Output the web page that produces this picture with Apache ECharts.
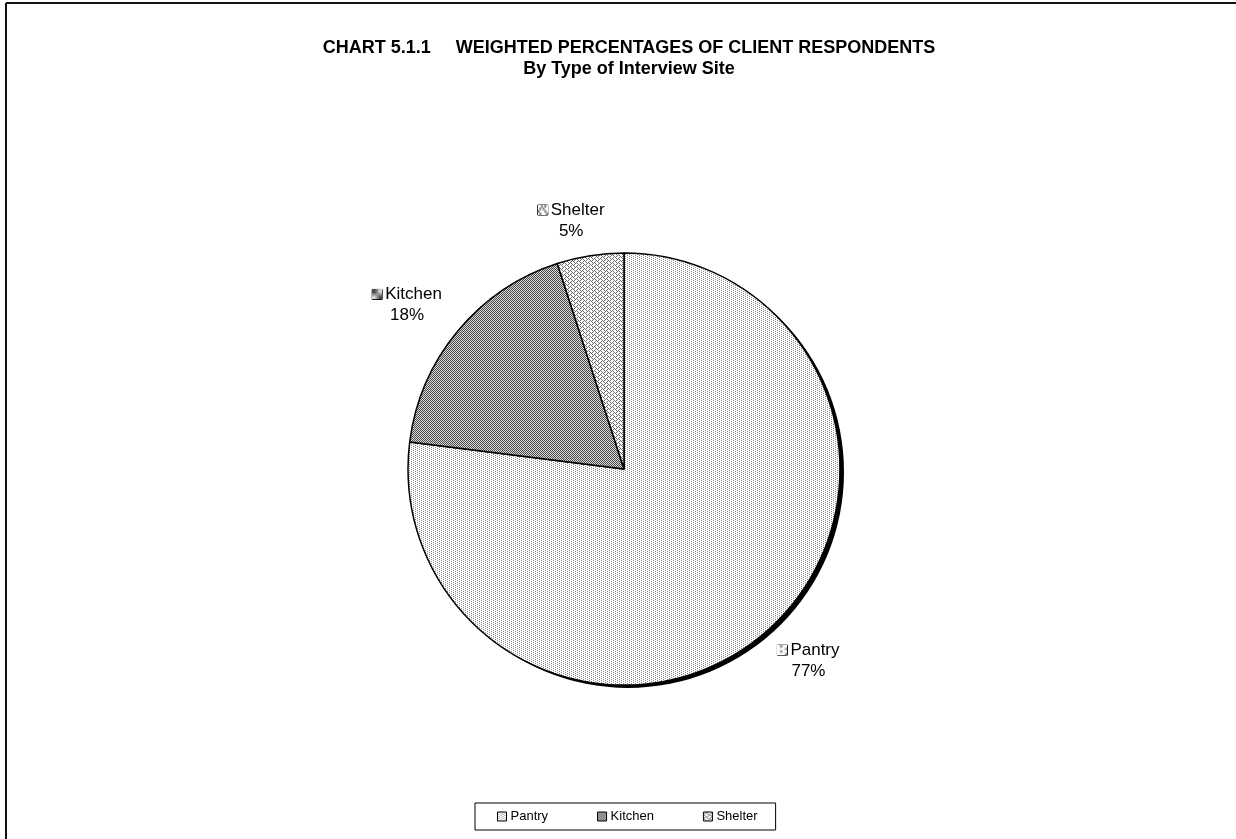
<!DOCTYPE html>
<html>
<head>
<meta charset="utf-8">
<script src="https://cdn.jsdelivr.net/npm/echarts@6/dist/echarts.min.js"></script>
<style>
html,body{margin:0;padding:0;background:#fff;}
#chart{width:1236px;height:839px;}
</style>
</head>
<body>
<div id="chart"></div>
<script>
// ---- data ----
var categories = ['Pantry', 'Kitchen', 'Shelter'];
var values = [77, 18, 5];
var titleLine1 = 'CHART 5.1.1     WEIGHTED PERCENTAGES OF CLIENT RESPONDENTS';
var titleLine2 = 'By Type of Interview Site';

// ---- patterns (style only) ----
function makeCanvas(w, h, draw) {
  var c = document.createElement('canvas');
  c.width = w; c.height = h;
  var ctx = c.getContext('2d');
  draw(ctx, w, h);
  return c;
}
var patPantry = makeCanvas(4, 4, function (ctx, w, h) {
  ctx.fillStyle = '#fff'; ctx.fillRect(0, 0, w, h);
  ctx.fillStyle = '#8a8a8a';
  ctx.fillRect(1, 0, 1, 1);
  ctx.fillRect(1, 2, 1, 1);
  ctx.fillRect(3, 1, 1, 1);
  ctx.fillRect(3, 3, 1, 1);
});
var patKitchen = makeCanvas(2, 2, function (ctx, w, h) {
  ctx.fillStyle = '#d8d8d8'; ctx.fillRect(0, 0, w, h);
  ctx.fillStyle = '#4a4a4a';
  ctx.fillRect(0, 0, 1, 1);
  ctx.fillRect(1, 1, 1, 1);
});
var patShelter = makeCanvas(6, 4, function (ctx, w, h) {
  ctx.fillStyle = '#fff'; ctx.fillRect(0, 0, w, h);
  ctx.fillStyle = '#666';
  ctx.fillRect(0, 2, 1, 1);
  ctx.fillRect(1, 1, 1, 1);
  ctx.fillRect(2, 0, 1, 1);
  ctx.fillRect(3, 1, 1, 1);
  ctx.fillRect(4, 2, 1, 1);
  ctx.fillRect(5, 3, 1, 1);
  ctx.fillRect(1, 3, 1, 1);
  ctx.fillRect(4, 0, 1, 1);
});
var patterns = [patPantry, patKitchen, patShelter];
var boxKeys = ['boxP', 'boxK', 'boxS'];

var CX = 624, CY = 469, R = 216;
var labelDist = [266, 272, 254];
var labelAngleNudge = [-2.5, -2.5, -3];

var total = values.reduce(function (a, b) { return a + b; }, 0);
var cum = [];
(function () { var s = 0; values.forEach(function (v) { cum.push(s); s += v; }); })();

var chart = echarts.init(document.getElementById('chart'), null, { renderer: 'canvas' });

var rich = {
  name: { fontSize: 17, fontFamily: 'Liberation Sans, Arial', color: '#000', padding: [0, 0, 0, 3], lineHeight: 21 },
  pct: { fontSize: 17, fontFamily: 'Liberation Sans, Arial', color: '#000', lineHeight: 21 }
};
boxKeys.forEach(function (k, i) {
  rich[k] = { width: 10, height: 10, borderColor: '#000', borderWidth: 1, backgroundColor: { image: patterns[i], repeat: 'repeat' } };
});

var pieData = categories.map(function (c, i) {
  return {
    name: c,
    value: values[i],
    itemStyle: { color: { image: patterns[i], repeat: 'repeat' } }
  };
});

var option = {
  animation: false,
  backgroundColor: '#fff',
  title: [{
    text: titleLine1,
    left: CX,
    textAlign: 'center',
    top: 34,
    textStyle: { fontFamily: 'Liberation Sans, Arial', fontWeight: 'bold', fontSize: 18, color: '#000' }
  }, {
    text: titleLine2,
    left: CX,
    textAlign: 'center',
    top: 55,
    textStyle: { fontFamily: 'Liberation Sans, Arial', fontWeight: 'bold', fontSize: 18, color: '#000' }
  }],
  legend: {
    data: categories,
    left: 475,
    top: 803,
    orient: 'horizontal',
    itemWidth: 9,
    itemHeight: 9,
    itemGap: 49,
    icon: 'rect',
    padding: [7, 18, 7, 22],
    borderColor: '#000',
    borderWidth: 1,
    itemStyle: { borderColor: '#000', borderWidth: 1 },
    textStyle: { fontFamily: 'Liberation Sans, Arial', fontSize: 13, color: '#000', padding: [0, 0, 0, -1] }
  },
  graphic: [
    { type: 'line', shape: { x1: 6, y1: 3, x2: 1236, y2: 3 }, style: { stroke: '#111', lineWidth: 2 }, silent: true },
    { type: 'line', shape: { x1: 6, y1: 3, x2: 6, y2: 839 }, style: { stroke: '#111', lineWidth: 2 }, silent: true }
  ],
  series: [{
    type: 'pie',
    name: 'shadow',
    silent: true,
    center: [CX + 4, CY + 3],
    radius: [0, R],
    startAngle: 90,
    data: [{ value: 1, name: '_shadow', itemStyle: { color: '#000' } }],
    label: { show: false },
    labelLine: { show: false },
    z: 1
  }, {
    type: 'pie',
    name: 'Sites',
    center: [CX, CY],
    radius: [0, R],
    startAngle: 90,
    clockwise: true,
    z: 2,
    itemStyle: { borderColor: '#000', borderWidth: 1.5 },
    data: pieData,
    label: {
      show: true,
      position: 'outside',
      formatter: function (p) {
        return '{' + boxKeys[p.dataIndex] + '|}{name|' + p.name + '}\n{pct|' + p.percent + '%}';
      },
      rich: rich,
      align: 'center'
    },
    labelLine: { show: false },
    labelLayout: function (p) {
      var i = p.dataIndex;
      var mid = (cum[i] + values[i] / 2) / total * 360 + labelAngleNudge[i];
      var a = mid * Math.PI / 180;
      return {
        x: CX + Math.sin(a) * labelDist[i],
        y: CY - Math.cos(a) * labelDist[i],
        align: 'center',
        verticalAlign: 'middle'
      };
    }
  }]
};
chart.setOption(option);
</script>
</body>
</html>
